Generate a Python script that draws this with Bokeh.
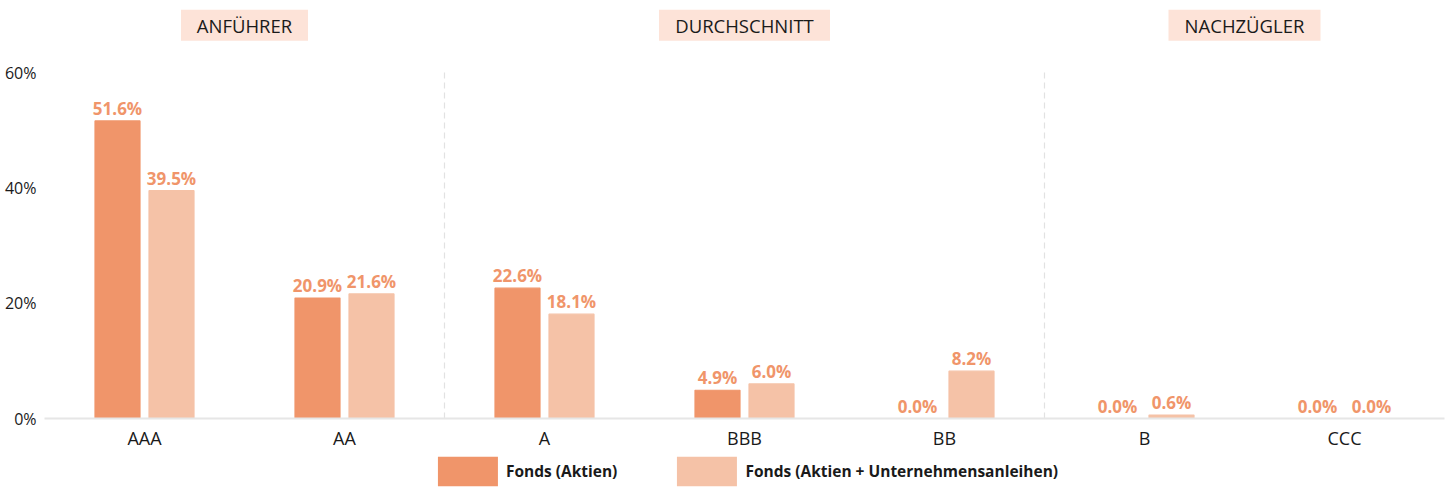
from bokeh.plotting import figure
from bokeh.layouts import column
from bokeh.models import (Range1d, FixedTicker, PrintfTickFormatter,
                          Legend, LegendItem, ColumnDataSource)
from bokeh.embed import file_html
from bokeh.resources import INLINE
from bokeh.core.properties import value
import numpy as np

# ---- data ----
categories = ["AAA", "AA", "A", "BBB", "BB", "B", "CCC"]
fonds_aktien = [51.6, 20.9, 22.6, 4.9, 0.0, 0.0, 0.0]
fonds_aktien_anleihen = [39.5, 21.6, 18.1, 6.0, 8.2, 0.6, 0.0]
series_names = ["Fonds (Aktien)", "Fonds (Aktien + Unternehmensanleihen)"]
group_names = ["ANFÜHRER", "DURCHSCHNITT", "NACHZÜGLER"]
group_sizes = [2, 3, 2]
y_ticks = [0, 20, 40, 60]

# ---- style ----
FONT = "Open Sans"
DARK = "#F0956A"
LIGHT = "#F5C2A7"
LABEL_COL = "#F0956A"
HEADER_BG = "#FDE3D8"
TEXT_COL = "#1a1a1a"
header_box_w = [127, 171, 152]   # px
header_box_h = 31                # px

n = len(categories)
centers = np.arange(n) + 0.5
off = 0.135
bw = 0.225

p = figure(frame_width=1400, frame_height=410, output_backend="svg",
           toolbar_location=None,
           x_range=Range1d(0, n), y_range=Range1d(0, 71.1),
           min_border_left=44, min_border_right=1, min_border_top=8,
           min_border_bottom=0)
p.outline_line_color = None
p.grid.visible = False

src1 = ColumnDataSource(dict(x=centers - off, top=fonds_aktien,
                             lab=[f"{v:.1f}%" for v in fonds_aktien]))
src2 = ColumnDataSource(dict(x=centers + off, top=fonds_aktien_anleihen,
                             lab=[f"{v:.1f}%" for v in fonds_aktien_anleihen]))

p.vbar(x="x", top="top", width=bw, source=src1, fill_color=DARK,
       line_color=DARK, line_width=1.2)
p.vbar(x="x", top="top", width=bw, source=src2, fill_color=LIGHT,
       line_color=LIGHT, line_width=1.2)

for s in (src1, src2):
    p.text(x="x", y="top", text="lab", source=s, text_align="center",
           text_baseline="bottom", y_offset=-1, text_color=LABEL_COL,
           text_font=value(FONT), text_font_style="bold",
           text_font_size="17px")

# group separators
bounds = np.cumsum(group_sizes)[:-1]
p.segment(x0=bounds, x1=bounds, y0=[0] * len(bounds), y1=[60.4] * len(bounds),
          line_color="#e2e2e2", line_width=1.2, line_dash="6 4")

# group headers
starts = np.concatenate([[0], np.cumsum(group_sizes)[:-1]])
gcenters = starts + np.array(group_sizes) / 2.0
hsrc = ColumnDataSource(dict(x=gcenters, y=[68.2] * len(gcenters),
                             w=header_box_w, name=group_names))
p.rect(x="x", y="y", width="w", height=header_box_h, width_units="screen",
       height_units="screen", source=hsrc, fill_color=HEADER_BG,
       line_color=None)
p.text(x="x", y="y", text="name", source=hsrc, text_align="center",
       text_baseline="middle", text_font=value(FONT), text_font_size="18.5px",
       text_color=TEXT_COL)

# axes
p.xaxis.ticker = FixedTicker(ticks=list(centers))
p.xaxis.major_label_overrides = {float(c): lab for c, lab in zip(centers, categories)}
p.xaxis.axis_line_color = "#e6e6e6"
p.xaxis.axis_line_width = 2
p.xaxis.major_tick_line_color = None
p.xaxis.minor_tick_line_color = None
p.xaxis.major_tick_out = 0
p.xaxis.major_tick_in = 0
p.xaxis.major_label_text_font = FONT
p.xaxis.major_label_text_font_size = "18px"
p.xaxis.major_label_text_color = TEXT_COL
p.xaxis.major_label_standoff = 7

p.yaxis.ticker = FixedTicker(ticks=y_ticks)
p.yaxis.formatter = PrintfTickFormatter(format="%d%%")
p.yaxis.axis_line_color = None
p.yaxis.major_tick_line_color = None
p.yaxis.minor_tick_line_color = None
p.yaxis.major_tick_out = 0
p.yaxis.major_tick_in = 0
p.yaxis.major_label_text_font = FONT
p.yaxis.major_label_text_font_size = "16px"
p.yaxis.major_label_text_color = TEXT_COL
p.yaxis.major_label_standoff = 8

# legend in its own strip below the chart
lg = figure(width=1445, height=37, output_backend="svg", toolbar_location=None,
            x_range=Range1d(0, 1), y_range=Range1d(0, 1),
            min_border=0)
lg.axis.visible = False
lg.grid.visible = False
lg.outline_line_color = None
e1 = lg.vbar(x=[0.5], top=[0], bottom=[0], width=0.1, fill_color=DARK,
             line_color=None)
e2 = lg.vbar(x=[0.5], top=[0], bottom=[0], width=0.1, fill_color=LIGHT,
             line_color=None)
legend = Legend(items=[LegendItem(label=series_names[0], renderers=[e1]),
                       LegendItem(label=series_names[1], renderers=[e2])],
                orientation="horizontal", location="center",
                glyph_width=75, glyph_height=37, label_standoff=1, spacing=52,
                label_text_font=FONT, label_text_font_style="bold",
                label_text_font_size="15.5px", label_text_color=TEXT_COL,
                border_line_color=None, background_fill_alpha=0,
                padding=0, margin=0)
lg.add_layout(legend)

layout = column(p, lg, spacing=0)
open("out.html", "w").write(file_html(layout, INLINE))
